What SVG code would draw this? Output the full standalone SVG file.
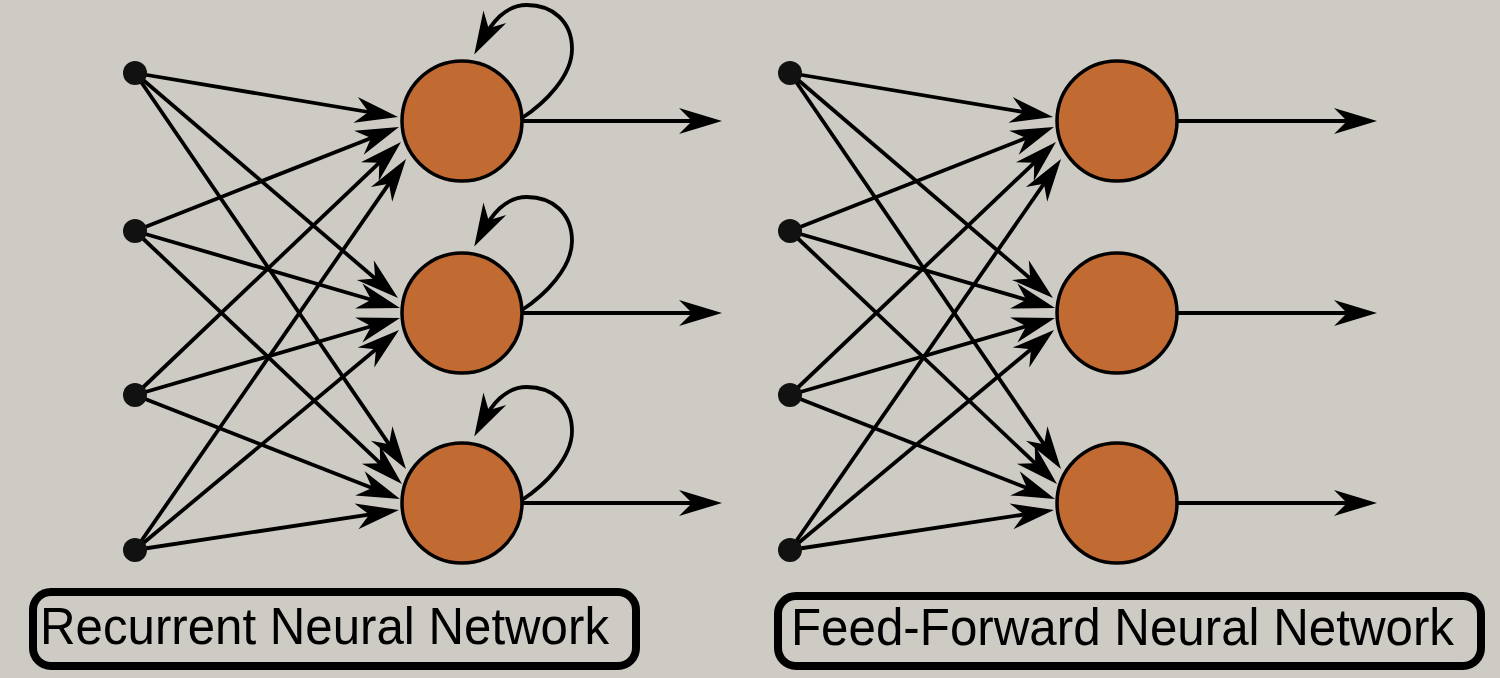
<svg xmlns="http://www.w3.org/2000/svg" width="1500" height="678" viewBox="0 0 1500 678">
<style>
.bg{fill:#cecbc4}
.in{fill:#111}
.neuron{fill:#c16b32;stroke:#000;stroke-width:3.5}
.edge{stroke:#000;stroke-width:3.8;fill:none;marker-end:url(#ah)}
.box{fill:none;stroke:#000;stroke-width:8}
.lbl{font-family:"Liberation Sans",Arial,sans-serif;font-size:52px;fill:#000}
</style>
<defs>
<marker id="ah" markerUnits="userSpaceOnUse" markerWidth="50" markerHeight="30" refX="0" refY="0" orient="auto" overflow="visible">
<path d="M12,0 L-31,-13 L-18,0 L-31,13 Z" fill="#000"/>
</marker>
</defs>
<rect class="bg" x="0" y="0" width="1500" height="678"/>

<g id="connectors">
<!-- RNN inputs -> neurons -->
<line class="edge" x1="135" y1="73" x2="386.2" y2="115.0"/>
<line class="edge" x1="135" y1="231" x2="387.8" y2="131.4"/>
<line class="edge" x1="135" y1="395" x2="392.3" y2="150.3"/>
<line class="edge" x1="135" y1="550" x2="399.2" y2="168.9"/>
<line class="edge" x1="135" y1="73" x2="388.9" y2="290.2"/>
<line class="edge" x1="135" y1="231" x2="388.5" y2="304.7"/>
<line class="edge" x1="135" y1="395" x2="388.5" y2="321.3"/>
<line class="edge" x1="135" y1="550" x2="389.8" y2="337.7"/>
<line class="edge" x1="135" y1="73" x2="399.2" y2="459.1"/>
<line class="edge" x1="135" y1="231" x2="393.3" y2="475.7"/>
<line class="edge" x1="135" y1="395" x2="388.8" y2="494.6"/>
<line class="edge" x1="135" y1="550" x2="387.1" y2="511.8"/>
<!-- RNN outputs -->
<line class="edge" x1="522" y1="121" x2="710" y2="121"/>
<line class="edge" x1="522" y1="313" x2="710" y2="313"/>
<line class="edge" x1="522" y1="503" x2="710" y2="503"/>
<!-- RNN self loops -->
<path class="edge" d="M522,118 C545,103 572,76 572,49 C572,21 552,5 527,5 C505,5 492,22 480,44"/>
<path class="edge" d="M522,310 C545,295 572,268 572,241 C572,213 552,197 527,197 C505,197 492,214 480,236"/>
<path class="edge" d="M522,500 C545,485 572,458 572,431 C572,403 552,387 527,387 C505,387 492,404 480,426"/>
<!-- FFNN inputs -> neurons -->
<line class="edge" x1="790" y1="73" x2="1041.2" y2="115.0"/>
<line class="edge" x1="790" y1="231" x2="1042.8" y2="131.4"/>
<line class="edge" x1="790" y1="395" x2="1047.3" y2="150.3"/>
<line class="edge" x1="790" y1="550" x2="1054.2" y2="168.9"/>
<line class="edge" x1="790" y1="73" x2="1043.9" y2="290.2"/>
<line class="edge" x1="790" y1="231" x2="1043.5" y2="304.7"/>
<line class="edge" x1="790" y1="395" x2="1043.5" y2="321.3"/>
<line class="edge" x1="790" y1="550" x2="1044.8" y2="337.7"/>
<line class="edge" x1="790" y1="73" x2="1054.2" y2="459.1"/>
<line class="edge" x1="790" y1="231" x2="1048.3" y2="475.7"/>
<line class="edge" x1="790" y1="395" x2="1043.8" y2="494.6"/>
<line class="edge" x1="790" y1="550" x2="1042.1" y2="511.8"/>
<!-- FFNN outputs -->
<line class="edge" x1="1177" y1="121" x2="1365" y2="121"/>
<line class="edge" x1="1177" y1="313" x2="1365" y2="313"/>
<line class="edge" x1="1177" y1="503" x2="1365" y2="503"/>
</g>

<g id="rnn-in1"><circle class="in" cx="135" cy="73" r="12"/></g>
<g id="rnn-in2"><circle class="in" cx="135" cy="231" r="12"/></g>
<g id="rnn-in3"><circle class="in" cx="135" cy="395" r="12"/></g>
<g id="rnn-in4"><circle class="in" cx="135" cy="550" r="12"/></g>
<g id="rnn-h1"><circle class="neuron" cx="462" cy="121" r="60"/></g>
<g id="rnn-h2"><circle class="neuron" cx="462" cy="313" r="60"/></g>
<g id="rnn-h3"><circle class="neuron" cx="462" cy="503" r="60"/></g>

<g id="ffnn-in1"><circle class="in" cx="790" cy="73" r="12"/></g>
<g id="ffnn-in2"><circle class="in" cx="790" cy="231" r="12"/></g>
<g id="ffnn-in3"><circle class="in" cx="790" cy="395" r="12"/></g>
<g id="ffnn-in4"><circle class="in" cx="790" cy="550" r="12"/></g>
<g id="ffnn-h1"><circle class="neuron" cx="1117" cy="121" r="60"/></g>
<g id="ffnn-h2"><circle class="neuron" cx="1117" cy="313" r="60"/></g>
<g id="ffnn-h3"><circle class="neuron" cx="1117" cy="503" r="60"/></g>

<g id="label-rnn">
<rect class="box" x="33" y="592" width="603" height="74" rx="18"/>
<text class="lbl" x="40" y="644" textLength="569" lengthAdjust="spacingAndGlyphs">Recurrent Neural Network</text>
</g>
<g id="label-ffnn">
<rect class="box" x="778" y="596" width="703" height="70" rx="18"/>
<text class="lbl" x="791" y="645" textLength="663" lengthAdjust="spacingAndGlyphs">Feed-Forward Neural Network</text>
</g>
</svg>
